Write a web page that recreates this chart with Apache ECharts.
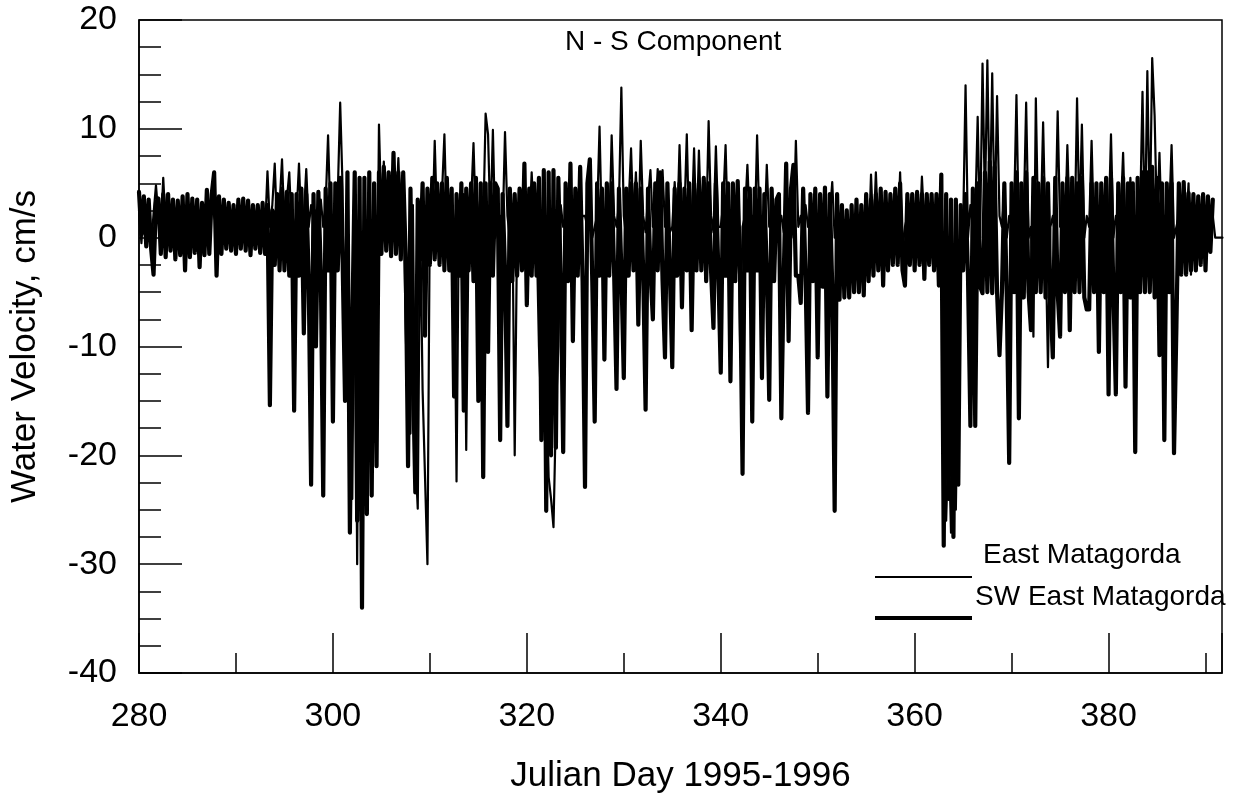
<!DOCTYPE html>
<html>
<head>
<meta charset="utf-8">
<script src="https://cdn.jsdelivr.net/npm/echarts@6/dist/echarts.min.js"></script>
<style>
html,body{margin:0;padding:0;background:#fff;}
#chart{width:1241px;height:802px;}
</style>
</head>
<body>
<div id="chart"></div>
<script>
const startDay = 280;
const stepDays = 0.25;
const titleText = 'N - S Component';
const xAxisTitle = 'Julian Day 1995-1996';
const yAxisTitle = 'Water Velocity, cm/s';
const seriesNames = ['East Matagorda', 'SW East Matagorda'];

// SW East Matagorda (thick line), 4 values per day
const swValues = [
  4.2, 0.3, 3.8, -0.8,   // 280
  3.5, -1.0, -3.4, 3.2,  // 281
  3.6, -1.5, 4.0, -1.8,  // 282
  4.0, -1.2, 3.5, -2.0,  // 283
  3.4, -1.6, 3.8, -3.0,  // 284
  4.0, -1.8, 3.6, -1.4,  // 285
  3.5, -2.7, 3.2, -1.6,  // 286
  4.4, -1.5, 4.0, 6.0,   // 287
  -3.5, 3.8, -1.5, 3.5,  // 288
  -1.0, 3.2, -1.2, 3.0,  // 289
  -1.5, 3.5, -1.0, 3.6,  // 290
  -1.2, 3.4, -1.6, 3.0,  // 291
  -1.0, 3.0, -1.4, 3.2,  // 292
  -1.5, 3.0, -15.4, 2.5, // 293
  -2.5, 4.0, -3.0, 4.5,  // 294
  -3.0, 4.2, -3.5, 4.0,  // 295
  -15.9, 4.0, -3.5, 4.5, // 296
  -8.8, 4.0, -3.5, -22.7,// 297
  4.0, -10.0, 4.2, -3.0, // 298
  -23.7, 4.5, -3.0, 5.0, // 299
  -16.9, 5.0, -3.0, 5.5, // 300
  -2.0, -15.0, 6.0, -27.1, // 301
  -8.0, 6.0, -26.0, 5.5, // 302
  -34.0, 5.5, -25.4, 6.0,// 303
  -23.7, 5.0, -21.0, 6.0,// 304
  -1.5, 6.5, -1.2, 6.0,  // 305
  -1.7, 7.8, -1.5, 6.0,  // 306
  -2.0, 6.0, -1.5, -21.0,// 307
  4.5, -12.0, -23.4, 3.5,// 308
  -2.0, 5.0, -9.0, 4.5,  // 309
  -2.5, 5.5, -2.0, 5.0,  // 310
  -2.5, 5.0, -3.0, 5.5,  // 311
  -3.0, 4.5, -14.6, 4.0, // 312
  -3.5, 5.0, -15.9, 4.5, // 313
  -3.0, 5.0, -4.0, 5.5,  // 314
  -15.0, 5.0, -22.0, 5.0,// 315
  -10.5, 5.0, -3.5, 5.0, // 316
  4.5, -18.6, 4.0, -3.0, // 317
  -17.3, 4.5, -4.0, 4.0, // 318
  -3.5, 4.5, -3.0, 6.8,  // 319
  -6.2, 4.5, -3.5, 5.0,  // 320
  -3.5, 5.5, -18.6, 6.2, // 321
  -25.1, 6.0, -20.0, 6.2,// 322
  -19.3, 5.5, -4.0, -19.7, // 323
  5.0, -4.0, 6.8, -9.5,  // 324
  4.5, -3.5, 6.5, -4.0,  // 325
  -22.9, 5.0, 7.2, -4.0, // 326
  -16.9, 5.0, -3.5, 4.5, // 327
  -11.2, 5.0, -3.5, 5.0, // 328
  -3.0, -13.9, 4.5, -3.0,// 329
  -12.9, 4.5, -3.5, 5.0, // 330
  -3.0, 5.0, -8.0, 4.5,  // 331
  -3.0, -15.8, 4.5, -3.0,// 332
  -7.5, 5.0, -3.0, 6.0,  // 333
  -4.0, -11.0, 5.0, -3.0,// 334
  -11.9, 4.5, -3.5, 5.0, // 335
  -6.4, 4.5, -3.0, 5.0,  // 336
  -8.5, 4.5, -3.0, 5.0,  // 337
  -3.0, 5.5, -4.0, 5.0,  // 338
  -3.0, -8.3, 5.0, -3.0, // 339
  -12.4, 5.0, -3.5, 5.0, // 340
  -13.2, 5.0, -4.0, 5.2, // 341
  -3.5, -21.7, 4.5, -3.0,// 342
  4.5, -16.9, 4.5, -3.0, // 343
  4.5, -12.9, 4.0, -3.0, // 344
  -14.9, 4.5, -4.0, 3.5, // 345
  4.0, -16.6, -3.5, 6.8, // 346
  -9.5, 4.5, 6.7, -3.5,  // 347
  -3.5, -6.0, 4.5, -3.5, // 348
  -16.1, 4.0, -4.0, 4.5, // 349
  -11.0, 4.0, -4.5, 4.6, // 350
  -14.6, 4.0, -4.5, -25.1, // 351
  4.0, -5.7, 3.0, -5.5,  // 352
  2.5, -5.5, 3.0, -5.0,  // 353
  3.5, -5.0, 3.0, -5.3,  // 354
  4.0, -4.0, 3.5, -3.5,  // 355
  4.0, -3.0, 4.5, -4.4,  // 356
  4.2, -3.0, 4.0, -2.5,  // 357
  4.5, -2.5, 5.0, -3.0,  // 358
  -4.4, 4.0, -2.5, 4.0,  // 359
  -3.0, 4.2, -2.5, 4.0,  // 360
  -3.8, 4.0, -2.5, 4.0,  // 361
  -3.0, 4.0, -4.4, 5.8,  // 362
  -28.3, 4.0, -24.0, 3.5,// 363
  -27.5, 3.5, -22.7, 3.0,// 364
  -3.0, 4.0, -3.5, -17.3,// 365
  4.5, -17.3, 5.0, -4.5, // 366
  -5.1, 6.0, -5.0, 7.0,  // 367
  -5.1, 6.5, -5.0, -10.8,// 368
  -5.0, 5.0, -5.5, -20.7,// 369
  5.0, -5.0, 6.0, -16.6, // 370
  5.0, -5.5, 6.0, -5.0,  // 371
  -8.5, 5.5, -5.0, 5.0,  // 372
  -5.0, 5.5, -5.5, 5.0,  // 373
  -5.5, -11.0, 5.5, -5.0,// 374
  -9.1, 5.0, -5.0, 5.5,  // 375
  -8.5, 5.5, -5.0, 5.0,  // 376
  -5.0, 5.5, -5.5, -6.6, // 377
  -6.6, 5.0, -5.0, 5.0,  // 378
  -10.5, 5.0, -5.0, 5.5, // 379
  -14.4, 5.5, -5.0, -14.4, // 380
  5.0, -5.0, 5.5, -13.7, // 381
  5.0, -5.5, 5.0, -19.7, // 382
  5.5, -5.0, 6.0, -5.0,  // 383
  6.0, -5.0, 6.5, -5.5,  // 384
  5.5, -10.8, 5.0, -18.6,// 385
  5.0, -5.0, 5.0, -19.8, // 386
  -8.1, 5.0, -3.4, 5.1,  // 387
  -3.4, 4.1, -3.0, 4.0,  // 388
  -3.0, 3.8, -2.5, 4.0,  // 389
  -3.0, 3.8, -1.3, 3.5   // 390
];

// East Matagorda (thin line), 4 values per day
const eastValues = [
  2.5, -0.5, 3.0, 0.5,   // 280
  1.5, -0.8, 2.2, 4.8,   // 281
  2.0, 0.5, 5.5, 1.0,    // 282
  2.5, -0.5, 3.0, 0.0,   // 283
  2.0, 0.0, 2.6, -1.0,   // 284
  2.8, -0.5, 3.2, 0.5,   // 285
  2.2, -0.8, 2.5, 0.0,   // 286
  3.0, 0.0, 3.5, 2.0,    // 287
  1.0, 2.5, -0.5, 2.0,   // 288
  0.5, 2.0, -0.5, 2.2,   // 289
  0.0, 2.5, 0.5, 2.0,    // 290
  0.2, 2.0, -0.4, 2.4,   // 291
  0.5, 1.8, 0.0, 2.0,    // 292
  0.5, 6.1, 1.0, 3.0,    // 293
  6.8, 0.5, 3.0, 7.2,    // 294
  1.0, 3.5, 6.0, 0.5,    // 295
  1.0, 2.0, 6.8, 1.0,    // 296
  2.0, 6.3, 1.0, 3.0,    // 297
  1.5, 2.5, 0.5, 3.5,    // 298
  1.0, 3.0, 9.4, 1.5,    // 299
  0.5, 3.0, 4.0, 12.4,   // 300
  4.5, -12.0, 5.0, -20.0,// 301
  -24.0, 5.0, -30.0, 4.0,// 302
  -28.0, 4.0, -22.0, -9.8, // 303
  -18.0, 3.0, -14.0, 10.4, // 304
  2.0, 7.0, 0.5, 5.0,    // 305
  1.0, 5.5, 2.0, 7.3,    // 306
  1.0, 4.5, -8.0, -18.0, // 307
  -18.0, 3.0, -20.0, -24.9,// 308
  2.0, -14.0, -22.0, -30.0,// 309
  3.0, 0.0, 8.9, 1.0,    // 310
  1.0, 4.0, 9.5, 0.5,    // 311
  0.5, 3.5, 1.0, -22.4,  // 312
  3.0, 1.0, 4.0, -19.5,  // 313
  1.0, 3.0, 8.7, 1.0,    // 314
  2.0, 4.0, 1.0, 11.4,   // 315
  9.5, 1.0, 9.9, 0.0,    // 316
  1.0, 2.0, 0.5, 9.7,    // 317
  2.0, 0.0, 3.0, -20.0,  // 318
  1.0, 3.0, -1.0, 2.0,   // 319
  2.0, 0.5, 6.0, 1.0,    // 320
  1.0, -10.0, -16.0, -14.0,// 321
  -12.0, -22.0, -24.0, -26.6, // 322
  -16.0, -10.0, 3.0, 1.0,// 323
  2.0, 0.5, 3.0, -5.0,   // 324
  1.0, 3.0, 1.0, 2.0,    // 325
  2.0, 1.0, 3.0, 0.0,    // 326
  1.0, 2.0, 10.2, 0.0,   // 327
  1.0, 2.5, 0.0, 9.4,    // 328
  2.0, 1.0, 3.0, 13.8,   // 329
  2.0, 0.0, 3.0, 8.2,    // 330
  1.0, 6.0, 0.0, 8.9,    // 331
  2.0, 0.5, 3.5, 6.2,    // 332
  1.0, 2.0, 6.3, 0.0,    // 333
  6.2, 1.0, 2.0, 0.5,    // 334
  1.0, 5.1, 0.5, 8.5,    // 335
  1.0, 2.0, 9.5, 0.0,    // 336
  1.0, 8.2, 0.0, 8.0,    // 337
  1.0, 3.0, 0.5, 10.7,   // 338
  2.0, 0.5, 8.4, 1.0,    // 339
  1.0, 3.0, 8.5, 0.0,    // 340
  2.0, 1.0, 1.0, 5.2,    // 341
  -10.0, 1.0, 2.0, 6.7,  // 342
  1.0, 2.0, 0.0, 9.4,    // 343
  1.0, 2.0, 0.0, 6.7,    // 344
  1.0, 2.0, 2.5, 0.5,    // 345
  1.0, 2.0, 0.5, 2.0,    // 346
  1.0, 2.0, 0.0, 8.9,    // 347
  1.0, 2.0, 0.0, 3.0,    // 348
  1.0, 2.0, 0.5, 2.0,    // 349
  1.0, 2.0, 0.0, 3.0,    // 350
  0.5, 2.0, 5.1, 0.0,    // 351
  1.0, -2.0, 2.5, -1.0,  // 352
  0.0, -2.0, 1.5, -1.0,  // 353
  1.0, -1.0, 2.0, -2.0,  // 354
  1.0, -1.0, 5.8, 0.0,   // 355
  6.0, 0.5, 2.0, -1.0,   // 356
  2.0, 0.0, 2.5, -0.5,   // 357
  2.0, 0.0, 6.0, -1.0,   // 358
  1.0, 2.0, 0.0, 3.0,    // 359
  1.0, 2.5, 0.0, 5.6,    // 360
  1.0, 2.0, -0.5, 3.0,   // 361
  1.0, 2.0, 0.0, 3.0,    // 362
  -20.0, -26.0, -18.0, -27.1,// 363
  -15.0, -25.0, -10.0, 2.0,// 364
  1.0, 14.0, 0.0, 3.0,   // 365
  1.0, 2.0, 11.1, 0.0,   // 366
  16.0, 3.0, 16.3, 2.0,  // 367
  15.1, 1.0, 13.0, 2.0,  // 368
  1.0, 4.0, 0.0, 2.0,    // 369
  1.0, 2.0, 13.1, 0.0,   // 370
  1.0, 2.0, 12.4, 0.0,   // 371
  1.0, -9.1, 12.8, 0.0,  // 372
  1.0, 10.6, 0.0, -11.9, // 373
  1.0, 2.0, 0.0, 11.6,   // 374
  1.0, 2.0, 0.0, 8.5,    // 375
  1.0, 2.0, 0.0, 12.8,   // 376
  1.0, 10.4, 0.0, 2.0,   // 377
  1.0, 8.9, 0.0, 2.0,    // 378
  1.0, 2.0, 0.0, 3.0,    // 379
  1.0, 9.5, 0.0, 2.0,    // 380
  1.0, 2.0, 7.8, 0.0,    // 381
  1.0, 5.5, 0.0, 2.0,    // 382
  1.0, 2.0, 13.4, 0.0,   // 383
  15.3, 1.0, 16.5, 11.2, // 384
  1.0, 7.8, 0.0, 2.0,    // 385
  1.0, 2.0, 8.5, 0.0,    // 386
  1.0, 2.0, 0.0, 3.0,    // 387
  1.0, 5.0, -3.4, 2.0,   // 388
  0.0, 2.0, -1.0, 2.5,   // 389
  0.0, 1.5, -0.5, 2.0,   // 390
  0.0, 0.0, 0.0, 0.0     // 391
];

// Axis ranges / ticks
const xMin = 280, xMax = 391.7, xLabelStep = 20, xMinorStep = 10;
const yMin = -40, yMax = 20, yStep = 10;

// ---- Chart ----
const FONT = '"Liberation Sans", Arial, Helvetica, sans-serif';
function toPairs(vals) { return vals.map((v, i) => [startDay + i * stepDays, v]); }

const chart = echarts.init(document.getElementById('chart'), null, { renderer: 'canvas' });

const option = {
  animation: false,
  backgroundColor: '#ffffff',
  title: {
    text: titleText,
    left: 560, top: 23,
    textStyle: { fontFamily: FONT, fontSize: 28, fontWeight: 'normal', color: '#000' }
  },
  grid: {
    left: 138, right: 19, top: 20, bottom: 129,
    show: true, borderColor: '#000', borderWidth: 1.5, backgroundColor: 'transparent'
  },
  xAxis: [
    {
      type: 'value', min: xMin, max: xMax, interval: xLabelStep, position: 'bottom',
      name: xAxisTitle, nameLocation: 'middle', nameGap: 86,
      nameTextStyle: { fontFamily: FONT, fontSize: 35, color: '#000' },
      axisLine: { show: true, onZero: false, lineStyle: { color: '#000', width: 1.5 } },
      axisTick: { show: true, inside: true, length: 40, lineStyle: { color: '#000', width: 1.5 } },
      axisLabel: {
        fontFamily: FONT, fontSize: 34, color: '#000', margin: 27,
        formatter: v => (Math.abs(v % xLabelStep) < 1e-6 ? String(v) : '')
      },
      splitLine: { show: false }
    },
    {
      type: 'value', min: xMin, max: xMax, interval: xMinorStep, position: 'bottom', gridIndex: 0,
      axisLine: { show: false, onZero: false },
      axisTick: { show: true, inside: true, length: 20, lineStyle: { color: '#000', width: 1.5 } },
      axisLabel: { show: false },
      splitLine: { show: false }
    }
  ],
  yAxis: {
    type: 'value', min: yMin, max: yMax, interval: yStep,
    name: yAxisTitle, nameLocation: 'middle', nameGap: 96,
    nameTextStyle: { fontFamily: FONT, fontSize: 35, color: '#000' },
    axisLine: { show: true, onZero: false, lineStyle: { color: '#000', width: 1.5 } },
    axisTick: { show: true, inside: true, length: 43, lineStyle: { color: '#000', width: 1.5 } },
    minorTick: { show: true, splitNumber: 4, length: 22, lineStyle: { color: '#000', width: 1.5 } },
    axisLabel: { fontFamily: FONT, fontSize: 34, color: '#000', margin: 22 },
    splitLine: { show: false }
  },
  series: [
    {
      name: seriesNames[0], type: 'line', xAxisIndex: 0, showSymbol: false, sampling: 'none',
      data: toPairs(eastValues), z: 3,
      lineStyle: { color: '#000', width: 2.2, join: 'round', cap: 'round' }
    },
    {
      name: seriesNames[1], type: 'line', xAxisIndex: 0, showSymbol: false, sampling: 'none',
      data: toPairs(swValues), z: 2,
      lineStyle: { color: '#000', width: 4.2, join: 'round', cap: 'round' }
    }
  ],
  graphic: [
    { type: 'line', shape: { x1: 875, y1: 577, x2: 972, y2: 577 }, style: { stroke: '#000', lineWidth: 2 } },
    { type: 'text', x: 983, y: 555, style: { text: seriesNames[0], font: '28px ' + FONT, fill: '#000', verticalAlign: 'middle', align: 'left' } },
    { type: 'line', shape: { x1: 875, y1: 618, x2: 972, y2: 618 }, style: { stroke: '#000', lineWidth: 4 } },
    { type: 'text', x: 975, y: 597, style: { text: seriesNames[1], font: '28px ' + FONT, fill: '#000', verticalAlign: 'middle', align: 'left' } }
  ]
};
chart.setOption(option);
</script>
</body>
</html>
